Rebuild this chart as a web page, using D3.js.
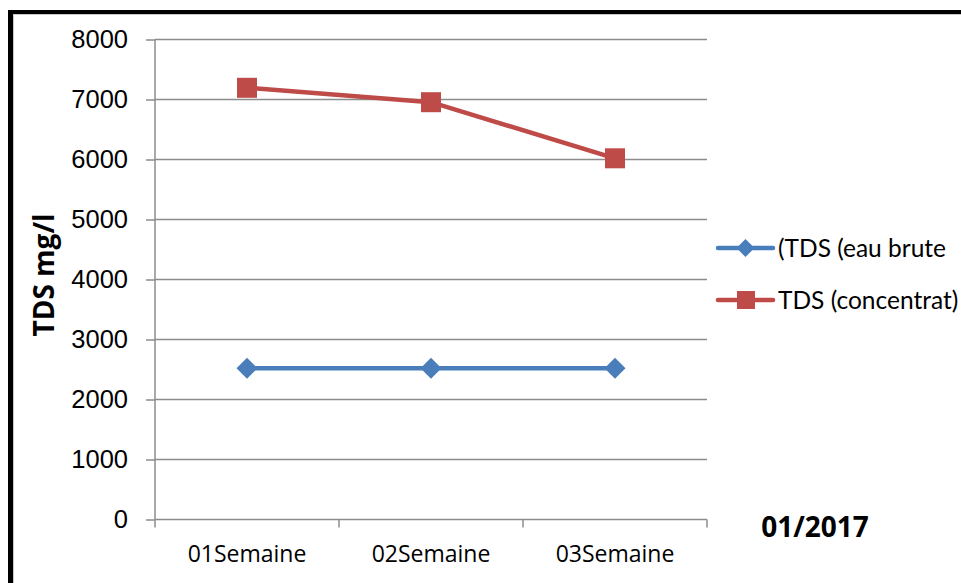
<!DOCTYPE html>
<html>
<head>
<meta charset="utf-8">
<script src="https://cdn.jsdelivr.net/npm/d3@7/dist/d3.min.js"></script>
<style>
  html, body { margin: 0; padding: 0; background: #fff; }
  svg { display: block; }
</style>
</head>
<body>
<script>
// Weekly TDS readings, January 2017
const categories = ["01Semaine", "02Semaine", "03Semaine"];
const eauBrute = [2520, 2520, 2520];
const concentrat = [7195, 6955, 6020];
const yTicks = [0, 1000, 2000, 3000, 4000, 5000, 6000, 7000, 8000];
const seriesNames = ["(TDS (eau brute", "TDS (concentrat)"];

const W = 961, H = 583;
const plot = { left: 155, right: 707, top: 39.5, bottom: 519.5 };

const svg = d3.select("body").append("svg")
  .attr("width", W).attr("height", H);

// Frame: thick black edges on the left and top
svg.append("rect").attr("x", 0).attr("y", 0).attr("width", W).attr("height", H).attr("fill", "#fff");
svg.append("line").attr("x1", 13.5).attr("x2", 13.5).attr("y1", 14).attr("y2", H)
  .attr("stroke", "#c8c8c8").attr("stroke-width", 1);
svg.append("line").attr("x1", 14).attr("x2", W).attr("y1", 14.5).attr("y2", 14.5)
  .attr("stroke", "#c8c8c8").attr("stroke-width", 1);
svg.append("rect").attr("x", 8).attr("y", 10).attr("width", 5).attr("height", H - 10).attr("fill", "#000");
svg.append("rect").attr("x", 8).attr("y", 10).attr("width", W - 8).attr("height", 4).attr("fill", "#000");

const x = d3.scaleBand().domain(categories).range([plot.left, plot.right]);
const y = d3.scaleLinear().domain([0, 8000]).range([plot.bottom, plot.top]);

const grid = "#8c8c8c";

// Horizontal gridlines
svg.append("g").selectAll("line").data(yTicks.filter(d => d > 0)).join("line")
  .attr("x1", plot.left).attr("x2", plot.right)
  .attr("y1", d => y(d)).attr("y2", d => y(d))
  .attr("stroke", grid).attr("stroke-width", 1.5);

// Y axis
const yAxis = svg.append("g")
  .attr("transform", `translate(${plot.left},0)`)
  .call(d3.axisLeft(y).tickValues(yTicks).tickSize(9).tickPadding(18).tickFormat(d3.format("d")));
yAxis.select(".domain").attr("stroke", grid).attr("stroke-width", 1.5)
  .attr("d", `M0,${plot.top}V${plot.bottom}`);
yAxis.selectAll(".tick line").attr("stroke", grid).attr("stroke-width", 1.5);
yAxis.selectAll(".tick text")
  .attr("font-family", "'Liberation Sans', Arial, sans-serif")
  .attr("font-size", 25.5).attr("fill", "#000");

// X axis with boundary ticks between categories
const xAxisG = svg.append("g").attr("transform", `translate(0,${plot.bottom})`);
xAxisG.append("line").attr("x1", plot.left).attr("x2", plot.right)
  .attr("stroke", grid).attr("stroke-width", 1.5);
const bounds = categories.map(c => x(c)).concat([plot.right]);
xAxisG.selectAll("line.tk").data(bounds).join("line").attr("class", "tk")
  .attr("x1", d => d).attr("x2", d => d).attr("y1", 0).attr("y2", 8)
  .attr("stroke", grid).attr("stroke-width", 1.5);
xAxisG.selectAll("text").data(categories).join("text")
  .attr("x", d => x(d) + x.bandwidth() / 2).attr("y", 42)
  .attr("text-anchor", "middle")
  .attr("font-family", "'Open Sans', 'Noto Sans', sans-serif")
  .attr("font-size", 23).attr("fill", "#000")
  .text(d => d);

const cx = d => x(d) + x.bandwidth() / 2;
const blue = "#4a7ebb", red = "#be4b48";

const line = d3.line().x(d => cx(d.c)).y(d => y(d.v));
const toPts = vals => categories.map((c, i) => ({ c, v: vals[i] }));

// Raw water series
svg.append("path").datum(toPts(eauBrute)).attr("d", line)
  .attr("fill", "none").attr("stroke", blue).attr("stroke-width", 4.5);
const diamond = 10.5;
svg.append("g").selectAll("path").data(toPts(eauBrute)).join("path")
  .attr("d", d => {
    const px = cx(d.c), py = y(d.v);
    return `M${px},${py - diamond}L${px + diamond},${py}L${px},${py + diamond}L${px - diamond},${py}Z`;
  })
  .attr("fill", blue);

// Concentrate series
svg.append("path").datum(toPts(concentrat)).attr("d", line)
  .attr("fill", "none").attr("stroke", red).attr("stroke-width", 4.5);
const sq = 20;
svg.append("g").selectAll("rect").data(toPts(concentrat)).join("rect")
  .attr("x", d => cx(d.c) - sq / 2).attr("y", d => y(d.v) - sq / 2)
  .attr("width", sq).attr("height", sq).attr("fill", red);

// Legend
const legend = svg.append("g");
const legendRows = [
  { name: seriesNames[0], color: blue, mark: "diamond", y: 248 },
  { name: seriesNames[1], color: red, mark: "square", y: 300 }
];
legendRows.forEach(r => {
  legend.append("line").attr("x1", 718).attr("x2", 773).attr("y1", r.y).attr("y2", r.y)
    .attr("stroke", r.color).attr("stroke-width", 4.5).attr("stroke-linecap", "round");
  if (r.mark === "diamond") {
    const s = 9;
    legend.append("path")
      .attr("d", `M745.5,${r.y - s}L${745.5 + s},${r.y}L745.5,${r.y + s}L${745.5 - s},${r.y}Z`)
      .attr("fill", r.color);
  } else {
    legend.append("rect").attr("x", 737).attr("y", r.y - 9).attr("width", 18).attr("height", 18)
      .attr("fill", r.color);
  }
  legend.append("text").attr("x", 778).attr("y", r.y + 8.5)
    .attr("font-family", "Lato, 'Open Sans', sans-serif")
    .attr("font-size", 24.5).attr("fill", "#000")
    .text(r.name);
});

// Axis title
svg.append("text")
  .attr("transform", "translate(54,275) rotate(-90)")
  .attr("text-anchor", "middle")
  .attr("font-family", "'Open Sans', sans-serif").attr("font-weight", "bold")
  .attr("font-size", 28).attr("fill", "#000")
  .text("TDS mg/l");

// Period label
svg.append("text")
  .attr("x", 815).attr("y", 537).attr("text-anchor", "middle")
  .attr("font-family", "'Open Sans', sans-serif").attr("font-weight", "bold")
  .attr("font-size", 28).attr("fill", "#000")
  .text("01/2017");
</script>
</body>
</html>
